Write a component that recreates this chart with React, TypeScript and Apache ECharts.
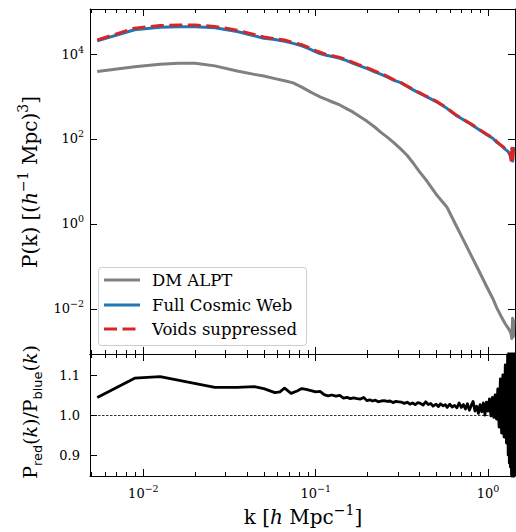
import React, { useEffect, useRef } from 'react';
import * as echarts from 'echarts';

// ---------- data ----------
const kTop = [
  0.0054, 0.0089, 0.0125, 0.016, 0.020, 0.026, 0.035, 0.044, 0.050, 0.058, 0.066, 0.074, 0.083,
  0.092, 0.100, 0.106, 0.115, 0.125, 0.138, 0.150, 0.165, 0.180, 0.198, 0.220, 0.240, 0.259,
  0.285, 0.309, 0.338, 0.370, 0.400, 0.442, 0.500, 0.577, 0.650, 0.720, 0.800, 0.880, 0.984,
  1.070, 1.125, 1.200, 1.256, 1.310, 1.340, 1.360, 1.375, 1.390, 1.405, 1.415,
];
const pDM = [
  3850, 5010, 5750, 6030, 6030, 5250, 3980, 3310, 3020, 2630, 2340, 2090, 1660,
  1320, 1100, 977, 851, 741, 631, 525, 427, 339, 263, 191, 141, 112,
  81, 60, 41.7, 26.3, 17, 10.2, 5.0, 2.5, 0.95, 0.42, 0.178, 0.083, 0.033,
  0.017, 0.0105, 0.0063, 0.0045, 0.0035, 0.003, 0.0026, 0.002, 0.006, 0.0022, 0.0056,
];
const pFull = [
  20400, 37200, 42700, 43700, 43700, 41700, 33900, 26900, 23400, 21900, 20000, 17800, 15500,
  13200, 11200, 10200, 9330, 8710, 7940, 7080, 6030, 5250, 4570, 3800, 3310, 2880,
  2400, 2140, 1740, 1410, 1200, 977, 759, 525, 363, 282, 219, 170, 126,
  102, 83, 69, 57.5, 50, 42.7, 35.5, 50, 30, 60, 52.5,
];
const pVoids = [
  21400, 40700, 46800, 47900, 47900, 44700, 36300, 28800, 25100, 22900, 21400, 18600, 16600,
  14100, 12000, 11000, 9770, 9120, 8320, 7410, 6310, 5500, 4790, 3980, 3470, 3020,
  2450, 2190, 1780, 1450, 1230, 1000, 776, 537, 372, 288, 224, 174, 129,
  105, 87, 69, 60, 50, 45.7, 31.6, 60, 27.5, 66, 50,
];
const kRatio = [
  0.0054, 0.0089, 0.0125, 0.026, 0.035, 0.044, 0.050, 0.058, 0.062, 0.066, 0.072, 0.078, 0.083,
  0.088, 0.094, 0.100, 0.106, 0.112, 0.118, 0.124, 0.131, 0.138, 0.145, 0.152, 0.159, 0.166,
  0.174, 0.182, 0.190, 0.198, 0.206, 0.214, 0.222, 0.231, 0.240, 0.250, 0.260, 0.270, 0.281,
  0.292, 0.303, 0.315, 0.327, 0.340, 0.352, 0.365, 0.378, 0.392, 0.405, 0.420, 0.435, 0.450,
  0.465, 0.480, 0.500, 0.515, 0.530, 0.550, 0.565, 0.580, 0.600, 0.620, 0.640, 0.660, 0.680,
  0.700, 0.720, 0.740, 0.760, 0.780, 0.800, 0.820, 0.840, 0.860, 0.880, 0.900, 0.920, 0.940,
  0.960, 0.980, 1.000, 1.020, 1.040, 1.060, 1.080, 1.100, 1.120, 1.140, 1.160, 1.180, 1.200,
  1.220, 1.240, 1.260, 1.280, 1.300, 1.310, 1.320, 1.330, 1.340, 1.350, 1.360, 1.370, 1.380,
  1.390, 1.400, 1.405, 1.410, 1.415, 1.420,
];
const ratio = [
  1.044, 1.092, 1.096, 1.069, 1.069, 1.071, 1.066, 1.056, 1.058, 1.067, 1.054, 1.060, 1.066,
  1.064, 1.061, 1.058, 1.059, 1.051, 1.048, 1.050, 1.047, 1.049, 1.042, 1.044, 1.041, 1.043,
  1.041, 1.040, 1.044, 1.036, 1.038, 1.035, 1.037, 1.033, 1.035, 1.036, 1.034, 1.035, 1.031,
  1.034, 1.033, 1.032, 1.029, 1.032, 1.027, 1.030, 1.026, 1.031, 1.029, 1.025, 1.033, 1.026,
  1.029, 1.022, 1.027, 1.021, 1.028, 1.023, 1.026, 1.019, 1.027, 1.020, 1.024, 1.018, 1.030,
  1.019, 1.026, 1.015, 1.028, 1.012, 1.024, 1.034, 1.010, 1.022, 1.004, 1.026, 1.008, 1.030,
  1.000, 1.032, 1.010, 1.040, 0.998, 1.044, 0.994, 1.050, 0.990, 1.065, 0.970, 1.090, 0.955,
  1.100, 0.945, 1.125, 0.930, 1.150, 0.900, 1.160, 0.880, 1.170, 0.870, 1.170, 0.850, 1.170,
  0.840, 1.170, 0.840, 1.160, 0.850, 1.100,
];

const xMajorTicks = [0.01, 0.1, 1];
const xMinorTicks = [
  0.005, 0.006, 0.007, 0.008, 0.009,
  0.02, 0.03, 0.04, 0.05, 0.06, 0.07, 0.08, 0.09,
  0.2, 0.3, 0.4, 0.5, 0.6, 0.7, 0.8, 0.9,
];
const pTicks = [1e-2, 1, 1e2, 1e4];
const ratioTicks = [0.9, 1.0, 1.1];
const kRange = [0.0049, 1.435];
const pRange = [8.6e-4, 1.148e5];
const ratioRange = [0.8475, 1.1525];
const legendNames = ['DM ALPT', 'Full Cosmic Web', 'Voids suppressed'];

// ---------- styling ----------
const SERIF = 'DejaVu Serif';
const C_GRAY = '#808080';
const C_BLUE = '#1f77b4';
const C_RED = '#d62728';
const L = Math.log10;

const GRID_LEFT = 90;
const GRID_W = 425;
const TOP0 = 9;
const MID = 354;
const BOT1 = 476;

const supRich = {
  b: { fontFamily: SERIF, fontSize: 13, color: '#000', lineHeight: 20 },
  s: { fontFamily: SERIF, fontSize: 9.5, color: '#000', lineHeight: 10, verticalAlign: 'top' },
};
const powLabel = (v: number) => {
  const e = Math.round(v);
  return `{b|10}{s|${e < 0 ? '\u2212' + -e : e}}`;
};

function xAxisDef(grid: number, pos: 'top' | 'bottom', ticks: number[], len: number, showLine: boolean, showLabel: boolean) {
  return {
    type: 'value',
    gridIndex: grid,
    position: pos,
    min: L(kRange[0]),
    max: L(kRange[1]),
    splitLine: { show: false },
    axisLine: { show: showLine, onZero: false, lineStyle: { color: '#000', width: 1 } },
    axisTick: { show: true, inside: true, length: len, customValues: ticks.map(L), lineStyle: { color: '#000', width: 1 } },
    axisLabel: showLabel
      ? { show: true, customValues: ticks.map(L), margin: 7, formatter: powLabel, rich: supRich }
      : { show: false },
  };
}

function yAxisDef(grid: number, pos: 'left' | 'right', range: number[], ticks: number[], showLabel: boolean, isLog: boolean) {
  const tv = isLog ? ticks.map(L) : ticks;
  return {
    type: 'value',
    gridIndex: grid,
    position: pos,
    min: isLog ? L(range[0]) : range[0],
    max: isLog ? L(range[1]) : range[1],
    splitLine: { show: false },
    axisLine: { show: true, onZero: false, lineStyle: { color: '#000', width: 1 } },
    axisTick: { show: true, inside: true, length: 7, customValues: tv, lineStyle: { color: '#000', width: 1 } },
    axisLabel: showLabel
      ? isLog
        ? { show: true, customValues: tv, margin: 6, formatter: powLabel, rich: supRich }
        : {
            show: true, customValues: tv, margin: 10, fontFamily: SERIF, fontSize: 13, color: '#000',
            formatter: (v: number) => v.toFixed(1),
          }
      : { show: false },
  };
}

function makeRich(size: number) {
  return {
    n: { fontFamily: SERIF, fontSize: size, fill: '#000', lineHeight: size + 8 },
    i: { fontFamily: SERIF, fontSize: size, fontStyle: 'italic', fill: '#000', lineHeight: size + 8 },
    sup: { fontFamily: SERIF, fontSize: size * 0.7, fill: '#000', lineHeight: size * 0.72, verticalAlign: 'top' },
    sub: { fontFamily: 'DejaVu Sans', fontSize: size * 0.68, fill: '#000', lineHeight: size * 0.72, verticalAlign: 'bottom' },
  };
}

function buildOption() {
  const lineBase = {
    type: 'line',
    showSymbol: false,
    symbol: 'none',
    silent: true,
    animation: false,
  };
  const legendY = [280, 305, 329];
  const legendColors = [C_GRAY, C_BLUE, C_RED];
  const legendEls: any[] = [
    {
      type: 'rect',
      shape: { x: 98.5, y: 267.5, width: 208, height: 78, r: 3 },
      style: { fill: 'rgba(255,255,255,0.8)', stroke: '#cccccc', lineWidth: 1 },
      z: 100,
    },
  ];
  legendNames.forEach((name, i) => {
    legendEls.push({
      type: 'line',
      shape: { x1: 104, y1: legendY[i], x2: 140, y2: legendY[i] },
      style: { stroke: legendColors[i], lineWidth: 3, lineDash: i === 2 ? [13, 5.5] : null },
      z: 101,
    });
    legendEls.push({
      type: 'text',
      x: 152,
      y: legendY[i],
      style: {
        text: name, fill: '#000', font: `16.5px "${SERIF}"`,
        align: 'left', verticalAlign: 'middle', textAlign: 'left', textVerticalAlign: 'middle',
      },
      z: 101,
    });
  });

  return {
    animation: false,
    backgroundColor: '#ffffff',
    grid: [
      { left: GRID_LEFT, top: TOP0, width: GRID_W, height: MID - TOP0 },
      { left: GRID_LEFT, top: MID, width: GRID_W, height: BOT1 - MID },
    ],
    xAxis: [
      xAxisDef(0, 'bottom', xMajorTicks, 7, true, false),
      xAxisDef(0, 'bottom', xMinorTicks, 4, false, false),
      xAxisDef(0, 'top', xMajorTicks, 7, true, false),
      xAxisDef(0, 'top', xMinorTicks, 4, false, false),
      xAxisDef(1, 'bottom', xMajorTicks, 7, true, true),
      xAxisDef(1, 'bottom', xMinorTicks, 4, false, false),
      xAxisDef(1, 'top', xMajorTicks, 7, true, false),
      xAxisDef(1, 'top', xMinorTicks, 4, false, false),
    ],
    yAxis: [
      yAxisDef(0, 'left', pRange, pTicks, true, true),
      yAxisDef(0, 'right', pRange, pTicks, false, true),
      yAxisDef(1, 'left', ratioRange, ratioTicks, true, false),
      yAxisDef(1, 'right', ratioRange, ratioTicks, false, false),
    ],
    series: [
      {
        ...lineBase, name: legendNames[0], xAxisIndex: 0, yAxisIndex: 0,
        data: kTop.map((k, i) => [L(k), L(pDM[i])]),
        lineStyle: { color: C_GRAY, width: 3, join: 'round' },
        z: 2,
      },
      {
        ...lineBase, name: legendNames[1], xAxisIndex: 0, yAxisIndex: 0,
        data: kTop.map((k, i) => [L(k), L(pFull[i])]),
        lineStyle: { color: C_BLUE, width: 3, join: 'round' },
        z: 3,
      },
      {
        ...lineBase, name: legendNames[2], xAxisIndex: 0, yAxisIndex: 0,
        data: kTop.map((k, i) => [L(k), L(pVoids[i])]),
        lineStyle: { color: C_RED, width: 3, type: [13, 5.5], join: 'round' },
        z: 4,
      },
      {
        ...lineBase, name: 'ratio', xAxisIndex: 4, yAxisIndex: 2,
        data: kRatio.map((k, i) => [L(k), ratio[i]]),
        lineStyle: { color: '#000', width: 2.8, join: 'round' },
        z: 3,
        markLine: {
          silent: true,
          symbol: ['none', 'none'],
          label: { show: false },
          lineStyle: { color: '#000', width: 0.8, type: [2.5, 1.5] },
          data: [{ yAxis: 1 }],
        },
      },
    ],
    graphic: [
      ...legendEls,
      {
        type: 'text',
        x: 30,
        y: 182,
        rotation: Math.PI / 2,
        style: {
          text: '{n|P(k) [(}{i|h}{sup|\u22121}{n| Mpc)}{sup|3}{n|]}',
          rich: makeRich(20),
          align: 'center', verticalAlign: 'middle', textAlign: 'center', textVerticalAlign: 'middle',
        },
      },
      {
        type: 'text',
        x: 30,
        y: 412,
        rotation: Math.PI / 2,
        style: {
          text: '{n|P}{sub|red}{n|(}{i|k}{n|)/P}{sub|blue}{n|(}{i|k}{n|)}',
          rich: makeRich(19),
          align: 'center', verticalAlign: 'middle', textAlign: 'center', textVerticalAlign: 'middle',
        },
      },
      {
        type: 'text',
        x: 303,
        y: 517,
        style: {
          text: '{n|k [}{i|h}{n| Mpc}{sup|\u22121}{n|]}',
          rich: makeRich(20),
          align: 'center', verticalAlign: 'middle', textAlign: 'center', textVerticalAlign: 'middle',
        },
      },
    ],
  };
}

export default function App() {
  const ref = useRef<HTMLDivElement>(null);
  useEffect(() => {
    if (!ref.current) return;
    const chart = echarts.init(ref.current, null, { renderer: 'svg' });
    chart.setOption(buildOption() as any);
    return () => {
      chart.dispose();
    };
  }, []);
  return (
    <div
      ref={ref}
      style={{ position: 'fixed', left: 0, top: 0, width: 516, height: 532, background: '#fff' }}
    />
  );
}
